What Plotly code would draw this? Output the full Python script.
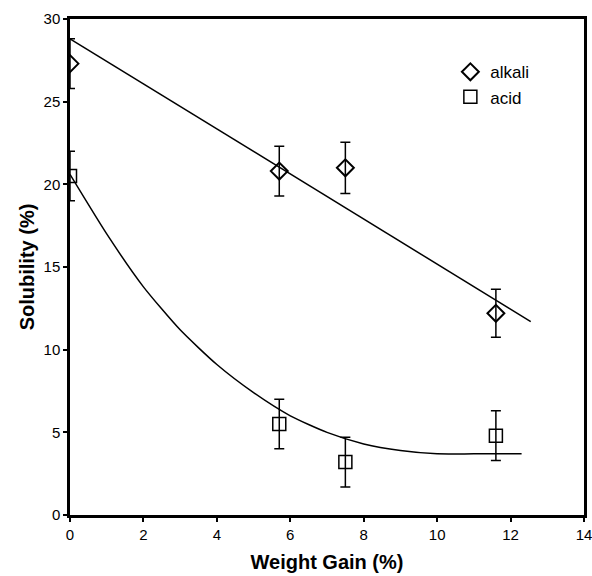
import plotly.graph_objects as go

# Data
weight_gain = [0.0, 5.7, 7.5, 11.6]
alkali = [27.3, 20.8, 21.0, 12.2]
alkali_err = [1.5, 1.5, 1.55, 1.45]
acid = [20.5, 5.5, 3.2, 4.8]
acid_err = [1.5, 1.5, 1.5, 1.5]

# Trend lines
alkali_fit_x = [0.0, 12.55]
alkali_fit_y = [28.8, 11.7]
acid_fit_x = [0, 1, 2, 3, 4, 5, 6, 7, 8, 9, 10, 11, 12.3]
acid_fit_y = [20.6, 17.0, 13.8, 11.2, 9.1, 7.4, 6.0, 5.0, 4.3, 3.9, 3.7, 3.7, 3.7]

x_ticks = [0, 2, 4, 6, 8, 10, 12, 14]
y_ticks = [0, 5, 10, 15, 20, 25, 30]

FONT = "Liberation Sans, Arial, sans-serif"

fig = go.Figure()

fig.add_trace(go.Scatter(x=alkali_fit_x, y=alkali_fit_y, mode="lines",
                         line=dict(color="black", width=1.5), showlegend=False,
                         hoverinfo="skip"))
fig.add_trace(go.Scatter(x=acid_fit_x, y=acid_fit_y, mode="lines",
                         line=dict(color="black", width=1.5, shape="spline", smoothing=0.6),
                         showlegend=False, hoverinfo="skip"))

fig.add_trace(go.Scatter(
    x=weight_gain, y=alkali, mode="markers", name="alkali", legendgroup="a",
    marker=dict(symbol="diamond-open", size=13, color="black", line=dict(width=2)),
    error_y=dict(type="data", array=alkali_err, visible=True, color="black",
                 thickness=1.5, width=5),
))
fig.add_trace(go.Scatter(
    x=weight_gain, y=acid, mode="markers", name="acid", legendgroup="b",
    marker=dict(symbol="square-open", size=13, color="black", line=dict(width=1.5)),
    error_y=dict(type="data", array=acid_err, visible=True, color="black",
                 thickness=1.5, width=5),
))

axis_common = dict(
    showline=True, linecolor="black", linewidth=2.5, mirror=True,
    showgrid=False, zeroline=False, ticks="outside", ticklen=4,
    tickcolor="black", tickwidth=1.5, automargin=False,
    ticklabeloverflow="allow",
    tickfont=dict(family=FONT, size=15, color="black"),
)

fig.update_xaxes(range=[0, 14], tickvals=x_ticks,
                 title=dict(text="<b>Weight Gain (%)</b>",
                            font=dict(family=FONT, size=20, color="black"), standoff=14),
                 **axis_common)
fig.update_yaxes(range=[0, 30], tickvals=y_ticks,
                 title=dict(text="<b>Solubility (%)</b>",
                            font=dict(family=FONT, size=20, color="black"), standoff=4),
                 **axis_common)

fig.update_layout(
    width=592, height=576,
    margin=dict(l=70, r=8, t=19, b=61),
    paper_bgcolor="white", plot_bgcolor="white",
    font=dict(family=FONT, color="black"),
    legend=dict(x=0.74, y=0.929, xanchor="left", yanchor="top",
                bgcolor="rgba(0,0,0,0)", font=dict(family=FONT, size=17, color="black"),
                tracegroupgap=0, itemwidth=30),
)

fig.write_html("out.html", config={"displayModeBar": False},
               post_script="document.body.style.margin='0';")
